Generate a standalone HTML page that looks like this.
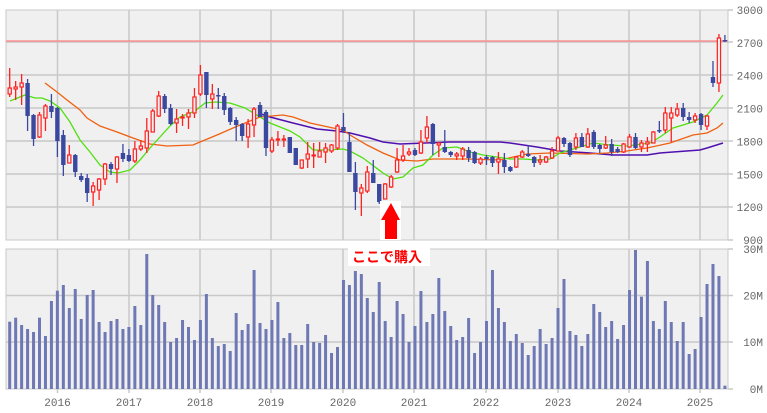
<!DOCTYPE html>
<html><head><meta charset="utf-8"><style>
html,body{margin:0;padding:0;background:#fff;width:767px;height:413px;overflow:hidden}
svg{display:block}
text{font-family:"Liberation Mono","DejaVu Sans Mono",monospace;font-size:11px;fill:#666}
</style></head><body>
<svg id="s" width="767" height="413" xmlns="http://www.w3.org/2000/svg">
<rect x="6" y="10" width="722" height="230" fill="#f0f0f0" stroke="#c8c8c8"/>
<rect x="6" y="249" width="722" height="140" fill="#f0f0f0" stroke="#c8c8c8"/>
<g id="grid" stroke="#c8c8c8" stroke-width="1.5"></g>
<g id="vol" fill="#6e78b4"></g>
<line x1="6" y1="41" x2="728" y2="41" stroke="#ff8080" stroke-width="1.2"/>
<polyline fill="none" stroke="#5010b0" stroke-width="1.5" points="258,113 270,117 293,123 317,129 337,131 350,133 370,138 383,142 400,144 450,142 500,142 510,143 537,147 560,151 590,153 613,155 647,155 660,153 673,152 700,150 707,148 723,143"/>
<polyline fill="none" stroke="#f06010" stroke-width="1.3" points="45,83 57,92 67,100 80,110 87,118 100,126 117,132 133,138 150,144 167,146 193,145 200,142 217,135 233,128 250,121 260,117 283,115 293,117 310,123 333,128 343,130 350,135 367,145 383,153 400,160 417,161 433,159 467,159 500,160 527,154 550,153 588,154 607,153 627,151 647,148 670,143 693,135 707,133 717,128 723,123"/>
<polyline fill="none" stroke="#50e010" stroke-width="1.3" points="10,101 25,95 35,98 42,98 50,101 60,108 70,122 80,140 90,152 100,165 110,172 118,173 130,170 140,160 150,148 160,137 170,126 180,117 195,111 205,103 215,102 230,103 245,108 255,114 270,123 290,131 300,137 313,150 327,150 343,149 350,151 363,158 383,173 393,179 403,177 413,168 423,165 433,155 443,148 457,147 470,152 483,155 497,157 510,159 523,159 537,160 550,159 560,153 580,147 593,143 610,145 627,146 650,143 660,137 673,128 693,122 707,115 717,103 723,95"/>
<g id="cd"></g>
<rect x="380" y="201" width="21" height="39" fill="#fff"/>
<polygon points="391,203 381,220 385,220 385,239 397,239 397,220 400,220" fill="#ff0000"/>
<rect x="348" y="247" width="82" height="19" fill="#fff"/>
<text x="352" y="262" style="font-family:'Liberation Sans','Noto Sans CJK JP',sans-serif;font-size:14px;font-weight:bold;fill:#ff0000">ここで購入</text>
<g id="lab"></g>
</svg>
<script>
var NS="http://www.w3.org/2000/svg";
function el(p,t,a,tx){var e=document.createElementNS(NS,t);for(var k in a)e.setAttribute(k,a[k]);if(tx!==undefined)e.textContent=tx;document.getElementById(p).appendChild(e);}
var X=function(i){return 9.7+5.96*i;};
// grid
[42,75,108,141,174,207].forEach(function(y){el('grid','line',{x1:6,y1:y,x2:733,y2:y});});
el('grid','line',{x1:728,y1:10,x2:733,y2:10});el('grid','line',{x1:728,y1:240,x2:733,y2:240});
[295.5,342].forEach(function(y){el('grid','line',{x1:6,y1:y,x2:733,y2:y});});
el('grid','line',{x1:728,y1:249,x2:733,y2:249});el('grid','line',{x1:728,y1:389,x2:733,y2:389});
var yrs=[57.5,129,200,271,343,414,486,558,629,700];
yrs.forEach(function(x,k){el('grid','line',{x1:x,y1:10,x2:x,y2:240});el('grid','line',{x1:x,y1:249,x2:x,y2:393});
el('lab','text',{x:x,y:406,'text-anchor':'middle'},String(2016+k));});
var pl=["3000","2700","2400","2100","1800","1500","1200","900"];
pl.forEach(function(t,k){el('lab','text',{x:763,y:10+k*32.86+4,'text-anchor':'end'},t);});
[["30M",249],["20M",295.5],["10M",342],["0M",389]].forEach(function(a){el('lab','text',{x:763,y:a[1]+4,'text-anchor':'end'},a[0]);});
// volume
var za=[245,233,255,267,276,233,288,183,152,135,204,147,237,165,150,246,276,243,237,267,261,198,255,42,165,195,246,306,294,240,261,300,240,162,294,318,312,333,219,270,252,90,249,267,240,186,294,279,315,315,252,306,309,285,339,321,120,135,93,102,174,216,126,243,291,183,222,306,258,153,246,222,114,213,258,300,291,234,339,306,243,90,204,246,303,282,309,345,318,267,312,294,204,117];
var zb=[993,1005,1038,1002,912,936,981,963,1017,975,870,750,890,783,963,987,903,966,1023,966,1062,1047,951,852,792,828,1157];
var vt=za.map(function(t){return 240+t/3;}).concat(zb.map(function(t){return t/3;}));
vt.forEach(function(y,i){el('vol','rect',{x:X(i)-1.5,y:y,width:3,height:389-y});});
// candles: bodyTop,bodyBot,wickTop,wickBot,color
var C="88,94,68,97,r;87,89,81,100,r;83,87,74,105,r;83,116,79,131,b;115,139,114,146,b;115,137,112,138,r;106,118,104,131,r;106,112,94,118,b;108,141,107,157,b;135,165,130,176,b;155,163,145,163,r;155,172,154,177,b;176,180,173,182,b;178,193,174,202,b;186,192,182,206,r;179,190,178,200,r;164,179,163,185,r;164,169,162,175,b;157,169,156,183,r;153,159,144,162,b;155,161,149,162,b;149,161,141,163,r;146,149,140,151,r;131,148,118,153,r;111,132,109,132,r;96,116,91,117,r;96,109,94,113,b;108,124,104,125,b;119,123,109,133,r;117,118,114,126,r;113,117,109,129,r;97,113,88,118,r;75,94,65,96,r;72,95,72,108,b;94,99,84,109,r;95,96,88,109,b;96,110,93,115,b;108,122,107,125,b;120,125,117,141,b;124,136,123,141,b;124,137,119,148,r;109,125,107,137,r;105,117,102,117,b;112,148,110,156,b;140,151,137,153,r;139,140,131,146,r;139,140,135,147,r;137,153,137,153,b;148,165,148,165,b;160,168,160,169,r;154,159,142,168,r;155,156,143,168,r;151,157,142,157,r;148,152,143,163,r;145,151,144,153,r;126,148,124,150,r;127,131,113,132,b;142,172,132,172,b;173,192,162,210,b;188,193,184,216,r;172,191,166,193,r;173,183,160,183,b;184,202,184,204,b;184,199,183,199,r;177,187,175,188,r;160,172,148,173,r;156,160,145,162,r;152,154,148,156,r;150,155,148,156,b;142,153,130,154,r;127,138,116,143,r;124,144,123,155,b;143,145,142,157,r;147,152,130,153,b;152,155,151,157,b;154,156,152,160,r;149,156,147,160,r;150,158,147,162,b;152,163,151,164,b;159,163,157,165,r;157,159,155,165,b;157,163,156,167,b;159,162,152,174,r;160,167,153,173,b;167,171,166,172,b;157,167,156,168,r;152,157,150,158,r;154,156,145,157,b;157,163,156,167,b;160,162,155,165,r;157,162,156,163,r;151,158,147,159,r;138,151,136,151,r;138,144,137,147,b;143,155,142,157,b;138,147,133,150,r;137,147,133,147,b;134,147,128,148,r;132,147,130,149,b;145,149,144,153,b;145,148,136,149,r;144,152,139,156,b;149,152,147,153,b;144,152,143,153,r;137,147,134,148,r;137,148,133,149,b;143,147,140,152,r;142,144,137,152,r;132,143,131,143,r;130,131,121,133,b;113,130,107,133,r;113,118,107,142,r;109,115,103,117,r;108,117,103,121,b;117,120,112,123,b;116,120,113,123,r;114,125,113,130,b;116,126,115,130,r;77,83,61,87,b;38,83,34,92,r;40,41,35,42,b";
C.split(";").forEach(function(s,i){var a=s.split(","),x=X(i);var bt=+a[0],bb=+a[1],wt=+a[2],wb=+a[3];
if(a[4]=="r"){var c="#ff2020";
el('cd','line',{x1:x,y1:wt,x2:x,y2:bt,stroke:c,'stroke-width':1.3});
el('cd','line',{x1:x,y1:bb,x2:x,y2:wb,stroke:c,'stroke-width':1.3});
el('cd','rect',{x:x-1.6,y:bt,width:3.2,height:Math.max(bb-bt,1),fill:"#f0f0f0",stroke:c,'stroke-width':1.2});}
else{var c="#3a48a0";
el('cd','line',{x1:x,y1:wt,x2:x,y2:wb,stroke:c,'stroke-width':1.3});
el('cd','rect',{x:x-2.2,y:bt,width:4.4,height:Math.max(bb-bt,1.5),fill:c});}
});
</script>
</body></html>
